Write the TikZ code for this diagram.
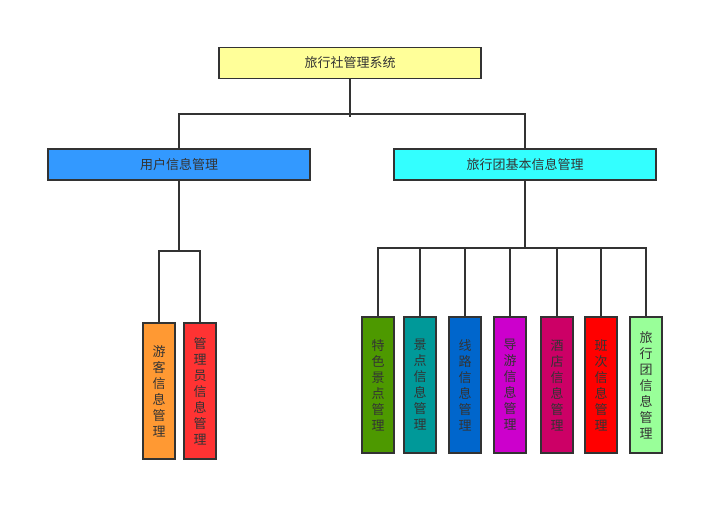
\documentclass[tikz,border=0pt]{standalone}
\usepackage{fontspec}
\newfontfamily\cjk{Noto Sans CJK SC}
\usetikzlibrary{positioning}
\definecolor{linegray}{HTML}{333333}
\definecolor{rootfill}{HTML}{FFFF99}
\definecolor{userfill}{HTML}{3399FF}
\definecolor{tourfill}{HTML}{33FFFF}
\definecolor{guestfill}{HTML}{FF9933}
\definecolor{adminfill}{HTML}{FF3333}
\definecolor{spotfill}{HTML}{4D9900}
\definecolor{sceneryfill}{HTML}{009999}
\definecolor{routefill}{HTML}{0066CC}
\definecolor{guidefill}{HTML}{CC00CC}
\definecolor{hotelfill}{HTML}{CC0066}
\definecolor{shiftfill}{HTML}{FF0000}
\definecolor{groupfill}{HTML}{99FF99}
\tikzset{
    x=1pt, y={(0pt,-1pt)}, % pixel grid of the reference, y runs down
    box/.style={draw=linegray, line width=1.5pt, text=linegray, inner sep=0pt}, % every box
    wide/.style={box, minimum width=262pt, minimum height=31pt,
                 font=\cjk\fontsize{13}{15}\selectfont}, % the horizontal boxes
    tall/.style={box, minimum width=32pt, minimum height=136pt, align=center,
                 font=\cjk\fontsize{13}{16}\selectfont}, % the vertical leaf boxes
    link/.style={draw=linegray, line width=1.5pt}, % connectors
}

\begin{document}
\begin{tikzpicture}
    \useasboundingbox (0,0) rectangle (724,521);
    % top level
    \node[wide, fill=rootfill] (root) at (350,63) {旅行社管理系统};
    \node[wide, fill=userfill] (user) at (179,164.5) {用户信息管理};
    \node[wide, fill=tourfill] (tour) at (525,164.5) {旅行团基本信息管理};
    % left branch
    \node[tall, fill=guestfill] (guest) at (159,391) {游\\客\\信\\息\\管\\理};
    \node[tall, fill=adminfill] (admin) at (200,391) {管\\理\\员\\信\\息\\管\\理};
    % right branch
    \node[tall, fill=spotfill] (spot) at (378,385) {特\\色\\景\\点\\管\\理};
    \node[tall, fill=sceneryfill] (scenery) at (420,385) {景\\点\\信\\息\\管\\理};
    \node[tall, fill=routefill] (route) at (465,385) {线\\路\\信\\息\\管\\理};
    \node[tall, fill=guidefill] (guide) at (510,385) {导\\游\\信\\息\\管\\理};
    \node[tall, fill=hotelfill] (hotel) at (557,385) {酒\\店\\信\\息\\管\\理};
    \node[tall, fill=shiftfill] (shift) at (601,385) {班\\次\\信\\息\\管\\理};
    \node[tall, fill=groupfill] (group) at (646,385) {旅\\行\\团\\信\\息\\管\\理};
    % junctions
    \coordinate (j0) at (350,114);
    \coordinate (j1) at (179,251);
    \coordinate (j2) at (525,248);
    \draw[link]
    (root.south) -- ([yshift=-3pt]j0)
    (j0) -| (user.north)
    (j0) -| (tour.north)
    (user.south) -- (j1)
    (j1) -| (guest.north)
    (j1) -| (admin.north)
    (tour.south) -- (j2)
    (j2) -| (spot.north) (j2) -| (scenery.north) (j2) -| (route.north)
    (j2) -| (guide.north) (j2) -| (hotel.north) (j2) -| (shift.north)
    (j2) -| (group.north);
\end{tikzpicture}
\end{document}
